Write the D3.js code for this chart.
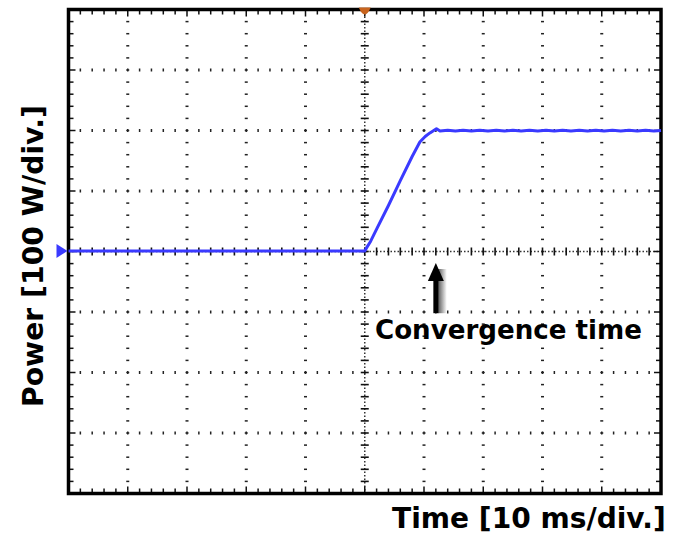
<!DOCTYPE html>
<html>
<head>
<meta charset="utf-8">
<script src="https://cdn.jsdelivr.net/npm/d3@7"></script>
<style>
body { margin: 0; background: #fff; }
text { font-family: "DejaVu Sans", Verdana, sans-serif; font-weight: bold; fill: #000; }
</style>
</head>
<body>
<svg id="chart" width="676" height="539"></svg>
<script>
// scope trace: time in ms, power in W
var timeMs = [-50, 0, 0.3, 1, 2, 4, 6, 8, 9.3, 10.2, 11, 12.1, 12.7,
    14, 15.3, 16.6, 18, 19.4, 20.8, 22.2, 23.6, 25, 26.4, 27.8, 29.2, 30.6, 32,
    33.4, 34.8, 36.2, 37.6, 39, 40.4, 41.8, 43.2, 44.6, 46, 47.4, 48.8, 50];
var powerW = [1, 1, 6, 17, 37, 76, 117, 157, 181, 190, 196, 203, 199,
    200.5, 199, 200.5, 199, 200.5, 199, 200.5, 199, 200.5, 199, 200.5, 199, 200.5, 199,
    200.5, 199, 200.5, 199, 200.5, 199, 200.5, 199, 200.5, 199, 200.5, 199, 200];

var xDomain = [-50, 50];   // 10 ms/div, 10 div
var yDomain = [-400, 400]; // 100 W/div, 8 div
var xMajor = 10, xMinor = 2, yMajor = 100, yMinor = 20;

var convergenceMs = 12;
var xLabel = "Time [10 ms/div.]";
var yLabel = "Power [100 W/div.]";
var noteLabel = "Convergence time";

var svg = d3.select("#chart");
var pLeft = 68.5, pRight = 661, pTop = 9.5, pBottom = 493.5;

var x = d3.scaleLinear().domain(xDomain).range([pLeft, pRight]);
var y = d3.scaleLinear().domain(yDomain).range([pBottom, pTop]);

var xMaj = d3.range(xDomain[0], xDomain[1] + 0.001, xMajor);
var xMin = d3.range(xDomain[0], xDomain[1] + 0.001, xMinor);
var yMaj = d3.range(yDomain[0], yDomain[1] + 0.001, yMajor);
var yMin = d3.range(yDomain[0], yDomain[1] + 0.001, yMinor);

var grid = svg.append("g").attr("fill", "#222");

// dotted vertical grid lines
xMaj.slice(1, -1).filter(function (t) { return t != 0; }).forEach(function (t) {
    grid.selectAll(null).data(yMin.slice(1, -1)).enter().append("rect")
        .attr("x", x(t) - 1.5).attr("y", function (d) { return y(d) - 0.75; })
        .attr("width", 3).attr("height", 1.5);
});
// dotted horizontal grid lines
yMaj.slice(1, -1).filter(function (p) { return p != 0; }).forEach(function (p) {
    grid.selectAll(null).data(xMin.slice(1, -1)).enter().append("rect")
        .attr("x", function (d) { return x(d) - 0.75; }).attr("y", y(p) - 1.5)
        .attr("width", 1.5).attr("height", 3);
});

// centre axes with crossing ticks
svg.append("line").attr("x1", x(0)).attr("x2", x(0)).attr("y1", pTop).attr("y2", pBottom)
    .attr("stroke", "#333").attr("stroke-width", 1.5).attr("stroke-dasharray", "1.5,2");
svg.append("line").attr("x1", pLeft).attr("x2", pRight).attr("y1", y(0)).attr("y2", y(0))
    .attr("stroke", "#333").attr("stroke-width", 1.5).attr("stroke-dasharray", "1.5,2");
svg.append("g").selectAll("line").data(yMin.slice(1, -1)).enter().append("line")
    .attr("x1", x(0) - 4).attr("x2", x(0) + 4)
    .attr("y1", function (d) { return y(d); }).attr("y2", function (d) { return y(d); })
    .attr("stroke", "#111").attr("stroke-width", 1.6);
svg.append("g").selectAll("line").data(xMin.slice(1, -1)).enter().append("line")
    .attr("y1", y(0) - 4).attr("y2", y(0) + 4)
    .attr("x1", function (d) { return x(d); }).attr("x2", function (d) { return x(d); })
    .attr("stroke", "#111").attr("stroke-width", 1.6);

// border ticks pointing inwards
var bt = svg.append("g").attr("stroke", "#111").attr("stroke-width", 1.5);
xMin.slice(1, -1).forEach(function (t) {
    var len = (t % xMajor == 0) ? 7 : 5;
    bt.append("line").attr("x1", x(t)).attr("x2", x(t)).attr("y1", pTop).attr("y2", pTop + len);
    bt.append("line").attr("x1", x(t)).attr("x2", x(t)).attr("y1", pBottom).attr("y2", pBottom - len);
});
yMin.slice(1, -1).forEach(function (p) {
    var len = (p % yMajor == 0) ? 7 : 5;
    bt.append("line").attr("y1", y(p)).attr("y2", y(p)).attr("x1", pLeft).attr("x2", pLeft + len);
    bt.append("line").attr("y1", y(p)).attr("y2", y(p)).attr("x1", pRight).attr("x2", pRight - len);
});

// frame
svg.append("rect").attr("x", pLeft).attr("y", pTop)
    .attr("width", pRight - pLeft).attr("height", pBottom - pTop)
    .attr("fill", "none").attr("stroke", "#000").attr("stroke-width", 3.5);

// trace
var line = d3.line()
    .x(function (d) { return x(d[0]); })
    .y(function (d) { return y(d[1]); });
svg.append("path").datum(d3.zip(timeMs, powerW))
    .attr("d", line).attr("fill", "none")
    .attr("stroke", "#3a3aff").attr("stroke-width", 3).attr("stroke-linejoin", "round");

// ground marker on the left, trigger marker on top
var gy = y(powerW[0]);
svg.append("path")
    .attr("d", "M" + (pLeft - 12) + "," + (gy - 7) + " L" + (pLeft - 1) + "," + gy + " L" + (pLeft - 12) + "," + (gy + 7) + "Z")
    .attr("fill", "#3a3aff");
var cx = x(0);
svg.append("path")
    .attr("d", "M" + (cx - 6) + "," + (pTop - 2) + " L" + (cx + 6) + "," + (pTop - 2) + " Q" + (cx + 3) + "," + (pTop + 5) + " " + cx + "," + (pTop + 5) + " Q" + (cx - 3) + "," + (pTop + 5) + " " + (cx - 6) + "," + (pTop - 2) + "Z")
    .attr("fill", "#c8641e");

// convergence arrow
var ax = x(convergenceMs);
var tipY = y(-19), endY = y(-102);
var defs = svg.append("defs");
var grad = defs.append("linearGradient").attr("id", "shade");
grad.append("stop").attr("offset", "0%").attr("stop-color", "#555");
grad.append("stop").attr("offset", "100%").attr("stop-color", "#fff");
svg.append("rect").attr("x", ax + 2).attr("y", tipY + 6).attr("width", 9).attr("height", endY - tipY - 6)
    .attr("fill", "url(#shade)");
svg.append("rect").attr("x", ax - 2.5).attr("y", tipY + 10).attr("width", 5).attr("height", endY - tipY - 10)
    .attr("fill", "#000");
svg.append("path")
    .attr("d", "M" + ax + "," + tipY + " L" + (ax + 8) + "," + (tipY + 18) + " L" + (ax - 8) + "," + (tipY + 18) + "Z")
    .attr("fill", "#000");

// text, sized to the widths measured on the reference
function fitText(sel, width) {
    sel.attr("font-size", 20);
    var w = sel.node().getComputedTextLength();
    sel.attr("font-size", 20 * width / w);
}

var note = svg.append("text").attr("x", 375).attr("y", 339).text(noteLabel);
fitText(note, 267);

var xl = svg.append("text").attr("x", 392).attr("y", 528).text(xLabel);
fitText(xl, 274);

var yl = svg.append("text").attr("transform", "translate(43,407) rotate(-90)").text(yLabel);
fitText(yl, 302);
</script>
</body>
</html>
